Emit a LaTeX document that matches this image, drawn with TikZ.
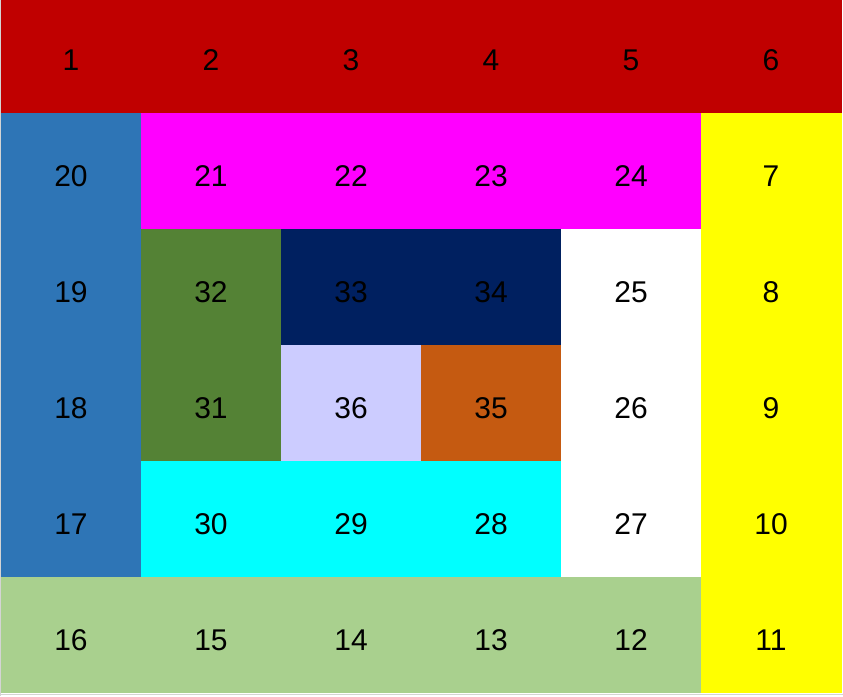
\documentclass[tikz,border=0pt]{standalone}
\usepackage{fontspec}
\setmainfont{Liberation Sans}
\definecolor{cRed}{HTML}{C00000}
\definecolor{cBlue}{HTML}{2E75B6}
\definecolor{cMag}{HTML}{FF00FF}
\definecolor{cYel}{HTML}{FFFF00}
\definecolor{cGreen}{HTML}{548235}
\definecolor{cNavy}{HTML}{002060}
\definecolor{cLav}{HTML}{CCCCFF}
\definecolor{cOrange}{HTML}{C55A11}
\definecolor{cCyan}{HTML}{00FFFF}
\definecolor{cLight}{HTML}{A9D08E}
\definecolor{cWhite}{HTML}{FFFFFF}
\definecolor{cGrid}{HTML}{D4D4D4}
\tikzset{
  cellbox/.style={draw=none, inner sep=0pt, minimum width=140pt, minimum height=116pt, anchor=north west},
  numtext/.style={font=\fontsize{30}{30}\selectfont, text=black, inner sep=0pt},
}
\begin{document}
\begin{tikzpicture}[x=1pt, y=-1pt]
\useasboundingbox (0,0) rectangle (843,696);
\fill[white] (0,0) rectangle (843,696);
\draw[cGrid, line width=1pt] (0.5,0) -- (0.5,696);
\draw[cGrid, line width=1pt] (0,694.5) -- (843,694.5);
\foreach \c/\r/\n/\col in {
 0/0/1/cRed, 1/0/2/cRed, 2/0/3/cRed, 3/0/4/cRed, 4/0/5/cRed, 5/0/6/cRed,
 0/1/20/cBlue, 1/1/21/cMag, 2/1/22/cMag, 3/1/23/cMag, 4/1/24/cMag, 5/1/7/cYel,
 0/2/19/cBlue, 1/2/32/cGreen, 2/2/33/cNavy, 3/2/34/cNavy, 4/2/25/cWhite, 5/2/8/cYel,
 0/3/18/cBlue, 1/3/31/cGreen, 2/3/36/cLav, 3/3/35/cOrange, 4/3/26/cWhite, 5/3/9/cYel,
 0/4/17/cBlue, 1/4/30/cCyan, 2/4/29/cCyan, 3/4/28/cCyan, 4/4/27/cWhite, 5/4/10/cYel,
 0/5/16/cLight, 1/5/15/cLight, 2/5/14/cLight, 3/5/13/cLight, 4/5/12/cLight, 5/5/11/cYel}
{
  \node[cellbox, fill=\col, minimum width={\c==5 ? 141pt : 140pt}] (cell\n) at ({1+140*\c}, {-3+116*\r}) {};
  \node[numtext] (num\n) at ({71+140*\c}, {60+116*\r}) {\n};
}
\end{tikzpicture}
\end{document}
